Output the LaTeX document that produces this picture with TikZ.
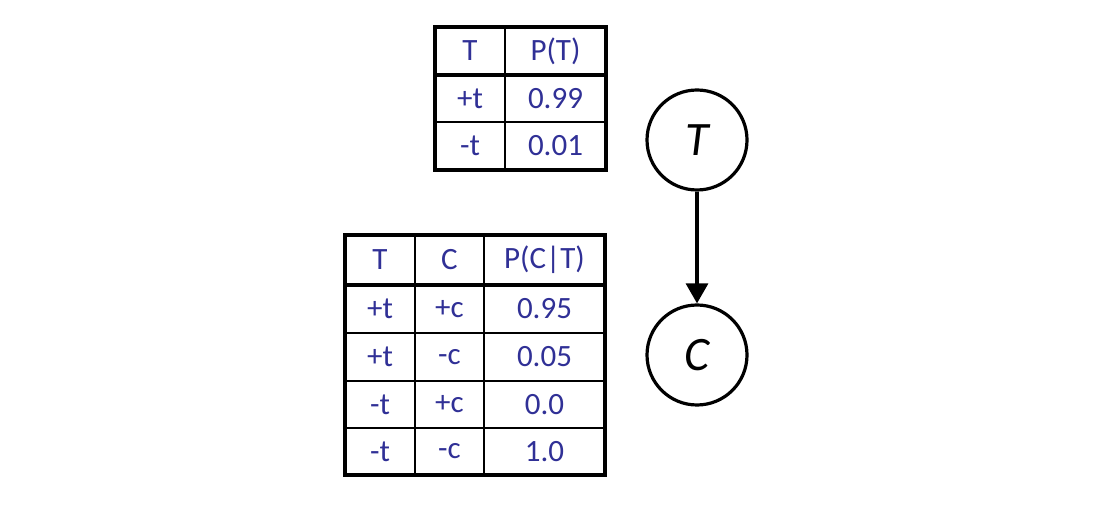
\documentclass[tikz,border=0pt]{standalone}
\usepackage{fontspec}
\setmainfont{Carlito}
\usetikzlibrary{arrows.meta}
\definecolor{cptblue}{RGB}{48,48,150}
\tikzset{
  cell/.style={text=cptblue, font=\fontsize{15.5}{18}\selectfont, inner sep=0pt},
  thickline/.style={line width=1.7pt},
  thinline/.style={line width=0.8pt},
  var/.style={circle, draw, line width=1.6pt, minimum size=50pt, inner sep=0pt, font=\fontsize{24}{28}\selectfont\itshape},
  edge/.style={line width=1.6pt, -{Triangle[length=10pt,width=11pt]}}
}
\begin{document}
\begin{tikzpicture}[x=0.5pt,y=-0.5pt]
\useasboundingbox (0,0) rectangle (1111,522);
% top table
\draw[thinline] (505,27) -- (505,170);
\draw[thinline] (435,122) -- (606,122);
\draw[thickline] (435,75) -- (606,75);
\draw[thickline] (435,27) rectangle (606,170);
\node[cell] (t11) at (470,51) {T};
\node[cell] (t12) at (555.5,51) {P(T)};
\node[cell] (t21) at (470,98.5) {+t};
\node[cell] (t22) at (555.5,98.5) {0.99};
\node[cell] (t31) at (470,146) {-t};
\node[cell] (t32) at (555.5,146) {0.01};
% bottom table
\draw[thinline] (415,235) -- (415,475);
\draw[thinline] (484,235) -- (484,475);
\draw[thinline] (345,333) -- (605,333);
\draw[thinline] (345,381) -- (605,381);
\draw[thinline] (345,428) -- (605,428);
\draw[thickline] (345,285) -- (605,285);
\draw[thickline] (345,235) rectangle (605,475);
\node[cell] (b11) at (380,260) {T};
\node[cell] (b12) at (449.5,260) {C};
\node[cell] (b13) at (544.5,260) {P(C|T)};
\node[cell] (b21) at (380,309) {+t};
\node[cell] (b22) at (449.5,309) {+c};
\node[cell] (b23) at (544.5,309) {0.95};
\node[cell] (b31) at (380,357) {+t};
\node[cell] (b32) at (449.5,357) {-c};
\node[cell] (b33) at (544.5,357) {0.05};
\node[cell] (b41) at (380,404.5) {-t};
\node[cell] (b42) at (449.5,404.5) {+c};
\node[cell] (b43) at (544.5,404.5) {0.0};
\node[cell] (b51) at (380,451.5) {-t};
\node[cell] (b52) at (449.5,451.5) {-c};
\node[cell] (b53) at (544.5,451.5) {1.0};
% graph
\node[var] (T) at (697,140) {T};
\node[var] (C) at (697,355) {C};
\draw[edge] (T) -- (C);
\end{tikzpicture}
\end{document}
